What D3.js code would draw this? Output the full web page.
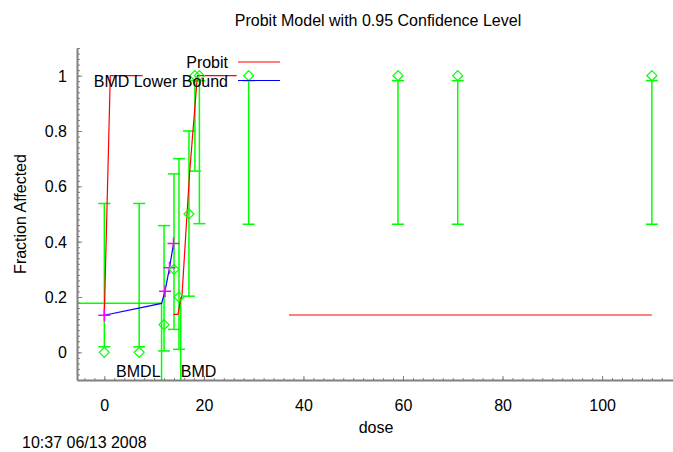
<!DOCTYPE html>
<html>
<head>
<meta charset="utf-8">
<script src="https://cdn.jsdelivr.net/npm/d3@7"></script>
<style>
  body { margin: 0; background: #fff; }
  svg { display: block; font-family: "Liberation Sans", Arial, sans-serif; }
</style>
</head>
<body>
<svg id="chart" width="673" height="452"></svg>
<script>
const width = 673;
const height = 452;

// observed data (fraction affected with confidence limits)
const doses = [0, 7, 12, 14, 15, 17, 18.2, 19.1, 29, 59, 71, 110];
const fracs = [0, 0, 0.1, 0.3, 0.2, 0.5, 1, 1, 1, 1, 1, 1];
const lowerCI = [0.02, 0.02, 0.005, 0.083, 0.011, 0.203, 0.655, 0.465, 0.463, 0.463, 0.463, 0.463];
const upperCI = [0.538, 0.538, 0.458, 0.645, 0.70, 0.80, 0.982, 0.982, 0.982, 0.982, 0.982, 0.982];

// probit model curve, drawn in pieces
const probitParts = [
    [[0, 0.135], [1.2, 1], [7.7, 1]],
    [[13.9, 0.137], [14.8, 0.137], [15.2, 0.18], [15.6, 0.205], [17.1, 0.64], [18.7, 1], [26.6, 1]],
    [[37.1, 0.135], [110, 0.135]]
];

// BMD lower bound curve and its markers
const lowerDose = [0, 11.5, 12.2, 13.1, 13.9];
const lowerResp = [0.134, 0.177, 0.221, 0.306, 0.393];
const markDose = [0, 12.2, 13.1, 13.9];
const markResp = [0.134, 0.221, 0.306, 0.393];

const bmdl = 11.5;
const bmd = 15.35;
const bmrLevel = 0.177;

const xTicks = [0, 20, 40, 60, 80, 100];
const yTicks = [0, 0.2, 0.4, 0.6, 0.8, 1];

const svg = d3.select("#chart");

const x = d3.scaleLinear().domain([-5.49, 114.25]).range([77, 673]);
const y = d3.scaleLinear().domain([-0.1, 1.1]).range([380, 48]);

const green = "#00ff00";
const axisGray = "#808080";

// title
svg.append("text")
    .attr("x", 378)
    .attr("y", 26)
    .attr("text-anchor", "middle")
    .style("font-size", "16px")
    .text("Probit Model with 0.95 Confidence Level");

// error bars
doses.forEach((d, i) => {
    const g = svg.append("g").attr("stroke", green).attr("stroke-width", 1.5);
    g.append("line")
        .attr("x1", x(d)).attr("x2", x(d))
        .attr("y1", y(lowerCI[i])).attr("y2", y(upperCI[i]));
    [lowerCI[i], upperCI[i]].forEach(v => {
        g.append("line")
            .attr("x1", x(d) - 6).attr("x2", x(d) + 6)
            .attr("y1", y(v)).attr("y2", y(v));
    });
});

// BMD / BMDL lines
svg.append("path")
    .attr("fill", "none")
    .attr("stroke", green)
    .attr("stroke-width", 1.5)
    .attr("d", `M${x(-5.49)},${y(bmrLevel)}H${x(bmdl)}V${y(-0.1)}`);
svg.append("path")
    .attr("fill", "none")
    .attr("stroke", green)
    .attr("stroke-width", 1.5)
    .attr("d", `M${x(bmd)},${y(0.2)}V${y(-0.1)}`);

const line = d3.line().x(d => x(d[0])).y(d => y(d[1]));

// probit model
probitParts.forEach(part => {
    svg.append("path")
        .datum(part)
        .attr("fill", "none")
        .attr("stroke", "#ff0000")
        .attr("stroke-width", 1.2)
        .attr("d", line);
});

// lower bound
svg.append("path")
    .datum(lowerDose.map((d, i) => [d, lowerResp[i]]))
    .attr("fill", "none")
    .attr("stroke", "#0000ff")
    .attr("stroke-width", 1.2)
    .attr("d", line);

svg.selectAll(".mark")
    .data(markDose.map((d, i) => [d, markResp[i]]))
    .enter()
    .append("path")
    .attr("class", "mark")
    .attr("stroke", "#ff00ff")
    .attr("stroke-width", 1.5)
    .attr("d", d => `M${x(d[0]) - 6},${y(d[1])}h12M${x(d[0])},${y(d[1]) - 6}v12`);

// data points (diamonds)
svg.selectAll(".pt")
    .data(doses.map((d, i) => [d, fracs[i]]))
    .enter()
    .append("path")
    .attr("class", "pt")
    .attr("fill", "none")
    .attr("stroke", green)
    .attr("stroke-width", 1.2)
    .attr("d", d => {
        const cx = x(d[0]), cy = y(d[1]);
        return `M${cx},${cy - 5}L${cx + 5},${cy}L${cx},${cy + 5}L${cx - 5},${cy}Z`;
    });

// BMDL / BMD labels
svg.append("text")
    .attr("x", x(bmdl) - 1)
    .attr("y", 377)
    .attr("text-anchor", "end")
    .style("font-size", "16px")
    .text("BMDL");
svg.append("text")
    .attr("x", x(bmd))
    .attr("y", 377)
    .style("font-size", "16px")
    .text("BMD");

// legend
svg.append("text")
    .attr("x", 228).attr("y", 68)
    .attr("text-anchor", "end")
    .style("font-size", "16px")
    .text("Probit");
svg.append("line")
    .attr("x1", 238).attr("x2", 280)
    .attr("y1", 62).attr("y2", 62)
    .attr("stroke", "#ff0000").attr("stroke-width", 1.2);
svg.append("text")
    .attr("x", 228).attr("y", 87)
    .attr("text-anchor", "end")
    .style("font-size", "16px")
    .text("BMD Lower Bound");
svg.append("line")
    .attr("x1", 238).attr("x2", 280)
    .attr("y1", 80.5).attr("y2", 80.5)
    .attr("stroke", "#0000ff").attr("stroke-width", 1.2);

// axes
const xMinor = d3.range(-4, 114, 2);
const yMinor = d3.range(-0.08, 1.1, 0.02);

const xAxisG = svg.append("g").attr("transform", `translate(0,380)`);
xAxisG.call(d3.axisBottom(x).tickValues(xMinor).tickSize(-2).tickSizeOuter(0).tickFormat(""));
xAxisG.append("g").call(d3.axisBottom(x).tickValues(xTicks).tickSize(-4).tickSizeOuter(0).tickFormat(d3.format("d")))
    .call(g => g.select(".domain").remove());
xAxisG.selectAll("path.domain").attr("stroke", axisGray).attr("stroke-width", 2);
xAxisG.selectAll(".tick line").attr("stroke", axisGray);
xAxisG.selectAll("text")
    .attr("y", 31)
    .attr("dy", 0)
    .attr("fill", "#000")
    .style("font-size", "16px")
    .style("font-family", "'Liberation Sans', Arial, sans-serif");

const yAxisG = svg.append("g").attr("transform", `translate(77,0)`);
yAxisG.call(d3.axisLeft(y).tickValues(yMinor).tickSize(-3).tickSizeOuter(0).tickFormat(""));
yAxisG.append("g").call(d3.axisLeft(y).tickValues(yTicks).tickSize(-5).tickSizeOuter(0).tickFormat(d => d === 0 || d === 1 ? d3.format("d")(d) : d3.format(".1f")(d)))
    .call(g => g.select(".domain").remove());
yAxisG.selectAll("path.domain").attr("stroke", axisGray).attr("stroke-width", 2);
yAxisG.selectAll(".tick line").attr("stroke", axisGray);
yAxisG.selectAll("text")
    .attr("x", -10)
    .attr("dy", "0.35em")
    .attr("fill", "#000")
    .style("font-size", "16px")
    .style("font-family", "'Liberation Sans', Arial, sans-serif");

// axis titles
svg.append("text")
    .attr("x", 376)
    .attr("y", 433)
    .attr("text-anchor", "middle")
    .style("font-size", "16px")
    .text("dose");
svg.append("text")
    .attr("transform", "translate(26,214) rotate(-90)")
    .attr("text-anchor", "middle")
    .style("font-size", "16px")
    .text("Fraction Affected");

// timestamp
svg.append("text")
    .attr("x", 22)
    .attr("y", 448)
    .style("font-size", "16px")
    .text("10:37 06/13 2008");
</script>
</body>
</html>
